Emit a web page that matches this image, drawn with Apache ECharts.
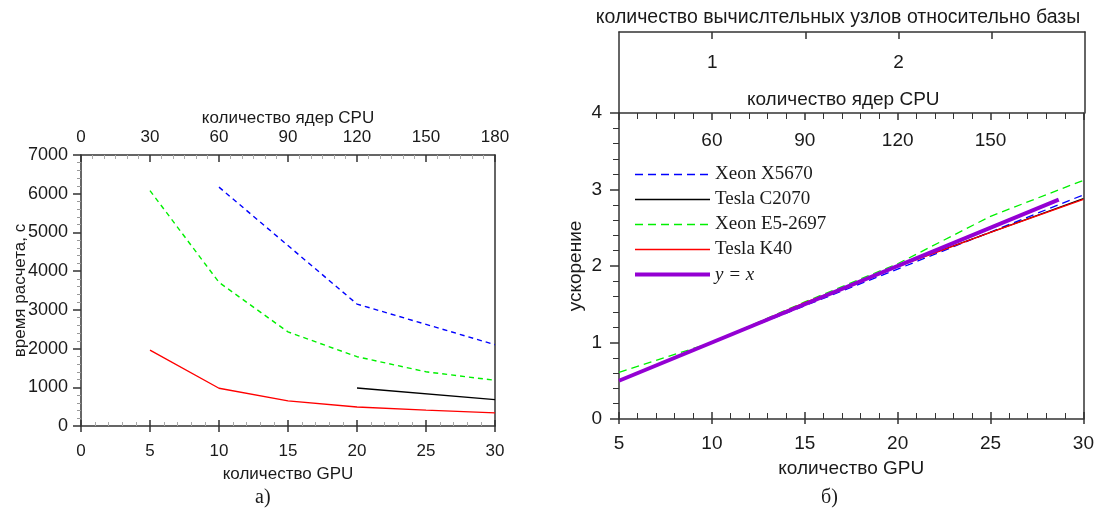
<!DOCTYPE html>
<html>
<head>
<meta charset="utf-8">
<script src="https://cdn.jsdelivr.net/npm/echarts@6/dist/echarts.min.js"></script>
<style>
  html, body { margin: 0; padding: 0; background: #fff; }
  #chart { width: 1097px; height: 514px; }
</style>
</head>
<body>
<div id="chart"></div>
<script>
// Run time, s, against GPU count (left panel)
const timeX5670 = [[10, 6170], [20, 3150], [30, 2100]];
const timeC2070 = [[20, 980], [30, 680]];
const timeE52697 = [[5, 6080], [10, 3710], [15, 2430], [20, 1790], [25, 1400], [30, 1180]];
const timeK40 = [[5, 1960], [10, 975], [15, 650], [20, 490], [25, 410], [30, 340]];

// Speedup against GPU count (right panel)
const speedX5670 = [[10, 1.0], [20, 1.96], [30, 2.93]];
const speedC2070 = [[20, 2.0], [30, 2.88]];
const speedE52697 = [[5, 0.61], [10, 1.0], [15, 1.53], [20, 2.03], [25, 2.65], [30, 3.12]];
const speedK40 = [[5, 0.5], [10, 1.0], [15, 1.52], [20, 1.99], [25, 2.44], [30, 2.87]];
const speedIdeal = [[5, 0.5], [28.67, 2.867]];

const seriesNames = ['Xeon X5670', 'Tesla C2070', 'Xeon E5-2697', 'Tesla K40', 'y = x'];
const seriesColors = ['#0000ff', '#000000', '#00f000', '#ff0000', '#9400d3'];

const SANS = 'Liberation Sans';
const SERIF = 'Liberation Serif';
const AX = '#333';
const TXT = '#1a1a1a';
const FS_L = 17;   // left panel text
const FS_R = 19;   // right panel text

const lineOnly = { show: true, onZero: false, lineStyle: { color: AX, width: 1.5 } };
const lbl = (fs, extra) => Object.assign({ fontFamily: SANS, fontSize: fs, color: TXT, formatter: (v) => String(v) }, extra || {});
const nm = (fs, extra) => Object.assign({ fontFamily: SANS, fontSize: fs, color: TXT }, extra || {});
const tick = (inside, len, w) => ({ show: true, inside: inside, length: len, lineStyle: { color: AX, width: w || 1.5 } });
const minor = (n, len, color) => ({ show: true, splitNumber: n, length: len, lineStyle: { color: color, width: 1 } });
const off = { show: false };

const dashR = [8, 5];
const dashL = [5, 4];
const rightDash = [dashR, null, dashR, null, null];
const rightWidth = [1.3, 1.3, 1.3, 1.3, 4];

const chart = echarts.init(document.getElementById('chart'), null, { renderer: 'canvas' });

const option = {
  animation: false,
  backgroundColor: '#fff',
  title: [
    { text: 'а)', left: 250, top: 483, textStyle: { fontFamily: SERIF, fontSize: 20, fontWeight: 'normal', color: TXT } },
    { text: 'б)', left: 816, top: 483, textStyle: { fontFamily: SERIF, fontSize: 20, fontWeight: 'normal', color: TXT } }
  ],
  grid: [
    { left: 81, right: 602, top: 155, bottom: 88 },
    { left: 619, right: 12, top: 113, bottom: 95 },
    { left: 619, right: 12, top: 32, height: 81 }
  ],
  legend: {
    data: seriesNames.map((n, i) => ({
      name: n,
      lineStyle: { color: seriesColors[i], width: rightWidth[i], type: rightDash[i] || 'solid' }
    })),
    orient: 'vertical',
    left: 628,
    top: 160,
    itemWidth: 75,
    itemHeight: 12,
    itemGap: 6,
    itemStyle: { opacity: 0 },
    textStyle: {
      fontFamily: SERIF, fontSize: 19, color: TXT,
      rich: { i: { fontFamily: SERIF, fontSize: 19, fontStyle: 'italic', color: TXT } }
    },
    formatter: (n) => n === 'y = x' ? '{i|y = x}' : n
  },
  xAxis: [
    // 0: left panel, GPU count, bottom
    { gridIndex: 0, type: 'value', position: 'bottom', min: 0, max: 30, interval: 5,
      axisLine: lineOnly, axisTick: tick(false, 6),
      axisLabel: lbl(FS_L, { margin: 17 }), splitLine: off,
      name: 'количество GPU', nameLocation: 'middle', nameGap: 40, nameMoveOverlap: false, nameTextStyle: nm(FS_L) },
    // 1: left panel, inner ticks on the bottom edge
    { gridIndex: 0, type: 'value', position: 'bottom', min: 0, max: 30, interval: 5,
      axisLine: { show: false, onZero: false }, axisTick: tick(true, 6),
      minorTick: minor(5, 4, '#aaa'), axisLabel: off, splitLine: off },
    // 2: left panel, CPU cores, top
    { gridIndex: 0, type: 'value', position: 'top', min: 0, max: 180, interval: 30,
      axisLine: lineOnly, axisTick: tick(true, 7),
      minorTick: minor(6, 4, '#aaa'),
      axisLabel: lbl(FS_L, { margin: 9 }), splitLine: off,
      name: 'количество ядер CPU', nameLocation: 'middle', nameGap: 28, nameMoveOverlap: false, nameTextStyle: nm(FS_L) },
    // 3: right panel, GPU count, bottom
    { gridIndex: 1, type: 'value', position: 'bottom', min: 5, max: 30, interval: 5,
      axisLine: lineOnly, axisTick: tick(false, 5),
      axisLabel: lbl(FS_R, { margin: 15 }), splitLine: off,
      name: 'количество GPU', nameLocation: 'middle', nameGap: 40, nameMoveOverlap: false, nameTextStyle: nm(FS_R) },
    // 4: right panel, inner ticks on the bottom edge
    { gridIndex: 1, type: 'value', position: 'bottom', min: 5, max: 30, interval: 5,
      axisLine: { show: false, onZero: false }, axisTick: tick(true, 7),
      minorTick: minor(5, 6, AX), axisLabel: off, splitLine: off },
    // 5: right panel, CPU cores, top edge of the main plot
    { gridIndex: 1, type: 'value', position: 'top', min: 30, max: 180, interval: 30,
      axisLine: lineOnly, axisTick: tick(true, 7),
      minorTick: minor(5, 6, AX),
      axisLabel: lbl(FS_R, { inside: true, margin: 18, showMinLabel: false, showMaxLabel: false }), splitLine: off,
      name: 'количество ядер CPU', nameLocation: 'middle', nameGap: 4, nameMoveOverlap: false,
      nameTextStyle: nm(FS_R, { verticalAlign: 'bottom', padding: [0, 16, 0, 0] }) },
    // 6: right panel, relative node count, top box
    { gridIndex: 2, type: 'value', position: 'top', min: 0.5, max: 3, interval: 0.5,
      axisLine: lineOnly, axisTick: tick(true, 7),
      axisLabel: lbl(FS_R, { inside: true, margin: 21, showMinLabel: false, showMaxLabel: false,
        formatter: (v) => (Math.abs(v - Math.round(v)) < 1e-9 ? String(Math.round(v)) : '') }),
      splitLine: off,
      name: 'количество вычислтельных узлов относительно базы', nameLocation: 'middle', nameGap: 4, nameMoveOverlap: false,
      nameTextStyle: nm(19.5, { verticalAlign: 'bottom', padding: [0, 28, 0, 0] }) }
  ],
  yAxis: [
    // 0: left panel, run time
    { gridIndex: 0, type: 'value', position: 'left', min: 0, max: 7000, interval: 1000,
      axisLine: lineOnly, axisTick: tick(false, 8),
      minorTick: minor(5, 4, '#999'),
      axisLabel: lbl(18, { margin: 13 }), splitLine: off,
      name: 'время расчета, с', nameLocation: 'middle', nameGap: 52, nameMoveOverlap: false, nameRotate: 90, nameTextStyle: nm(FS_L) },
    // 1: left panel, right edge
    { gridIndex: 0, type: 'value', position: 'right', min: 0, max: 7000,
      axisLine: lineOnly, axisTick: off, axisLabel: off, splitLine: off },
    // 2: right panel, speedup
    { gridIndex: 1, type: 'value', position: 'left', min: 0, max: 4, interval: 1,
      axisLine: lineOnly, axisTick: tick(false, 9),
      minorTick: minor(5, 6, AX),
      axisLabel: lbl(FS_R, { margin: 17 }), splitLine: off,
      name: 'ускорение', nameLocation: 'middle', nameGap: 34, nameMoveOverlap: false, nameRotate: 90, nameTextStyle: nm(FS_R) },
    // 3: right panel, right edge
    { gridIndex: 1, type: 'value', position: 'right', min: 0, max: 4,
      axisLine: lineOnly, axisTick: off, axisLabel: off, splitLine: off },
    // 4, 5: sides of the top box
    { gridIndex: 2, type: 'value', position: 'left', min: 0, max: 1,
      axisLine: lineOnly, axisTick: off, axisLabel: off, splitLine: off },
    { gridIndex: 2, type: 'value', position: 'right', min: 0, max: 1,
      axisLine: lineOnly, axisTick: off, axisLabel: off, splitLine: off }
  ],
  series: []
};

// Right panel first, so the legend takes its line styles
const speedData = [speedX5670, speedC2070, speedE52697, speedK40, speedIdeal];
speedData.forEach((d, i) => {
  option.series.push({
    name: seriesNames[i], type: 'line', xAxisIndex: 3, yAxisIndex: 2, data: d,
    symbol: 'none', silent: true, z: 2 + i,
    lineStyle: { color: seriesColors[i], width: rightWidth[i], type: rightDash[i] || 'solid' },
    itemStyle: { color: seriesColors[i] }
  });
});

const timeData = [timeX5670, timeC2070, timeE52697, timeK40];
const leftDash = [dashL, null, dashL, null];
timeData.forEach((d, i) => {
  option.series.push({
    name: seriesNames[i], type: 'line', xAxisIndex: 0, yAxisIndex: 0, data: d,
    symbol: 'none', silent: true, z: 2 + i,
    lineStyle: { color: seriesColors[i], width: 1.4, type: leftDash[i] || 'solid' },
    itemStyle: { color: seriesColors[i] }
  });
});

chart.setOption(option);
</script>
</body>
</html>
